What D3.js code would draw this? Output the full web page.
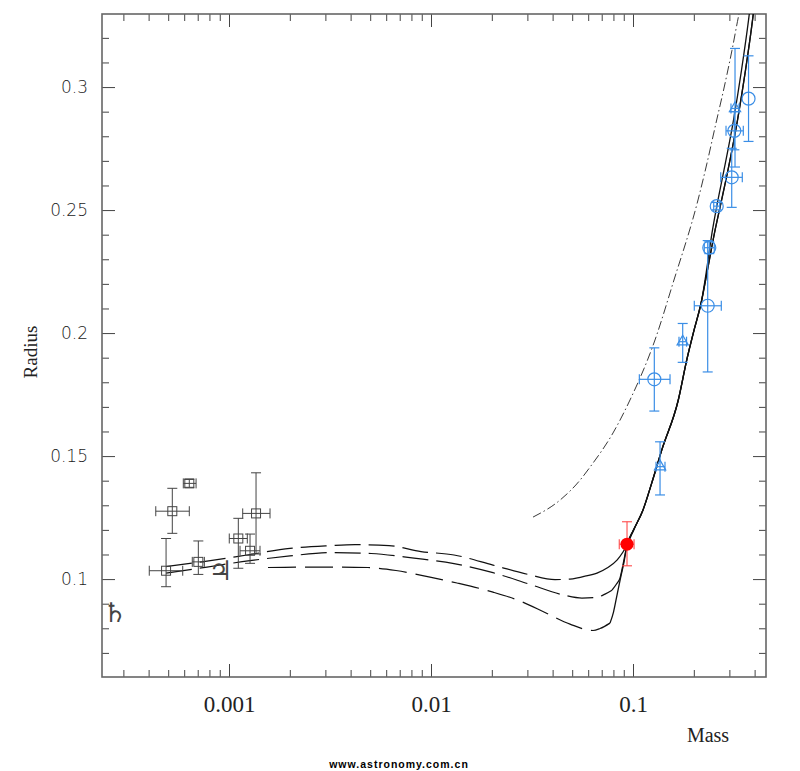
<!DOCTYPE html>
<html>
<head>
<meta charset="utf-8">
<script src="https://cdn.jsdelivr.net/npm/d3@7"></script>
<style>
  html, body { margin: 0; padding: 0; background: #ffffff; }
  svg { display: block; }
</style>
</head>
<body>
<svg id="chart" width="800" height="771"></svg>
<script>
// ---------------- tick labels ----------------
const xTickValues = [0.001, 0.01, 0.1];
const xTickLabels = ["0.001", "0.01", "0.1"];
const yTickValues = [0.1, 0.15, 0.2, 0.25, 0.3];
const yTickLabels = ["0.1", "0.15", "0.2", "0.25", "0.3"];
const xAxisTitle = "Mass";
const yAxisTitle = "Radius";
const watermark = "www.astronomy.com.cn";

// ---------------- model curves: [mass, radius] ----------------
const modelUpperLow = [
  [0.000488, 0.1051], [0.000778, 0.1073], [0.001271, 0.1100], [0.002004, 0.1125],
  [0.003162, 0.1136], [0.004205, 0.1140], [0.006197, 0.1136], [0.008923, 0.1112],
  [0.01300, 0.1098], [0.02027, 0.1057], [0.03056, 0.1018], [0.04111, 0.0998],
  [0.04877, 0.1000], [0.05786, 0.1012], [0.06635, 0.1024], [0.07435, 0.1045],
  [0.08333, 0.1077], [0.08923, 0.1110], [0.09339, 0.1138]
];
const modelMiddleLow = [
  [0.000488, 0.1024], [0.000778, 0.1049], [0.001271, 0.1075], [0.002004, 0.1094],
  [0.003162, 0.1108], [0.005047, 0.1104], [0.008238, 0.1085], [0.01300, 0.1063],
  [0.02027, 0.1026], [0.03056, 0.0980], [0.04554, 0.0935], [0.05591, 0.0923],
  [0.06559, 0.0925], [0.07268, 0.0939], [0.0787, 0.0955], [0.08285, 0.0980],
  [0.08623, 0.1004], [0.08975, 0.1069], [0.09339, 0.1138]
];
const modelLowerLow = [
  [0.001560, 0.1047], [0.002247, 0.1049], [0.003543, 0.1049], [0.004877, 0.1047],
  [0.006709, 0.1035], [0.009886, 0.1008], [0.01345, 0.0984], [0.02027, 0.0947],
  [0.02758, 0.0911], [0.03710, 0.0862], [0.04877, 0.0817], [0.06339, 0.0791],
  [0.06865, 0.0799], [0.07693, 0.0821], [0.08007, 0.0866], [0.08333, 0.0935],
  [0.08673, 0.1004], [0.09025, 0.1069], [0.09339, 0.1138]
];
// shared stellar branch
const mainSequence = [
  [0.09339, 0.1138], [0.10058, 0.1199], [0.11207, 0.1281], [0.12377, 0.1390],
  [0.13874, 0.1524], [0.16758, 0.1728], [0.18446, 0.1890], [0.19884, 0.2000],
  [0.21885, 0.2134]
];
const mainSequenceTopA = [
  [0.21885, 0.2134], [0.23245, 0.2268], [0.24611, 0.2407], [0.2605, 0.2520],
  [0.28219, 0.2663], [0.31444, 0.2866], [0.3445, 0.3069], [0.37316, 0.3272],
  [0.37958, 0.3321]
];
const mainSequenceTopB = [
  [0.21885, 0.2134], [0.23514, 0.2268], [0.25322, 0.2407], [0.27114, 0.2520],
  [0.29534, 0.2663], [0.32911, 0.2866], [0.36059, 0.3069], [0.39056, 0.3272],
  [0.3972, 0.3321]
];
const dashDotModel = [
  [0.03199, 0.1252], [0.04351, 0.1321], [0.05465, 0.1402], [0.06125, 0.1455],
  [0.07962, 0.1594], [0.09663, 0.1728], [0.1285, 0.1972], [0.15776, 0.2203],
  [0.20979, 0.2541], [0.23245, 0.2691], [0.25758, 0.2854], [0.28219, 0.2996],
  [0.30912, 0.3150], [0.33483, 0.3297], [0.34255, 0.3333]
];
// mass where each model turns from dashed to solid
const solidFromUpper = 0.05786;
const solidFromMiddle = 0.0787;
const solidFromLower = 0.07693;

// ---------------- observations: [mass, massLo, massHi, radius, radiusLo, radiusHi] ----------------
const planetPoints = [
  [0.000524, 0.000434, 0.000636, 0.1276, 0.1186, 0.1369],
  [0.000636, 0.000594, 0.000687, 0.1389, 0.1373, 0.1405],
  [0.000488, 0.000403, 0.000590, 0.1034, 0.0969, 0.1165],
  [0.000705, 0.000658, 0.000755, 0.1070, 0.1019, 0.1155],
  [0.001112, 0.001003, 0.001232, 0.1165, 0.1044, 0.1247],
  [0.001361, 0.001169, 0.001596, 0.1267, 0.1102, 0.1432],
  [0.001271, 0.001134, 0.001424, 0.1115, 0.1064, 0.1183]
];
const starCircles = [
  [0.1275, 0.1075, 0.1525, 0.1812, 0.1683, 0.1940],
  [0.2343, 0.2011, 0.2736, 0.2111, 0.1842, 0.2376],
  [0.2386, 0.2254, 0.2526, 0.2347, 0.2323, 0.2371],
  [0.2597, 0.2509, 0.2687, 0.2516, 0.2501, 0.2531],
  [0.3081, 0.2718, 0.3476, 0.2633, 0.2511, 0.2751],
  [0.3174, 0.2887, 0.3516, 0.2822, 0.2745, 0.2900],
  [0.3732, null, null, 0.2953, 0.2779, 0.3127]
];
const starTriangles = [
  [0.1361, 0.1300, 0.1440, 0.1457, 0.1342, 0.1558],
  [0.1762, 0.1689, 0.1841, 0.1965, 0.1881, 0.2039],
  [0.3199, 0.3055, 0.3348, 0.2913, 0.2675, 0.3157]
];
const targetPoint = [
  [0.0934, 0.0855, 0.1012, 0.1142, 0.1054, 0.1233]
];
// solar system planets
const solarNames = ["Jupiter", "Saturn"];
const solarSymbols = ["\u2643", "\u2644"];
const solarMass = [0.000955, 0.000286];
const solarRadius = [0.1005, 0.0837];

// ---------------- layout ----------------
const L = 102, R = 766, T = 14, B = 677;
const svg = d3.select("#chart");
svg.append("rect").attr("width", 800).attr("height", 771).attr("fill", "#fff");

const x = d3.scaleLog().domain([2.351e-4, 0.4554]).range([L, R]);
const y = d3.scaleLinear().domain([0.0602, 0.3297]).range([B, T]);

svg.append("defs").append("clipPath").attr("id", "plotclip")
  .append("rect").attr("x", L).attr("y", T).attr("width", R - L).attr("height", B - T);

// minor ticks
const xMinor = [];
for (let e = -4; e <= -1; e++) {
  for (let k = 2; k <= 9; k++) {
    const v = k * Math.pow(10, e);
    if (v > x.domain()[0] && v < x.domain()[1]) xMinor.push(v);
  }
}
const yMinor = d3.range(7, 33).map(d => d / 100)
  .filter(v => !yTickValues.some(t => Math.abs(t - v) < 1e-9));

const tickColor = "#444";
function styleAxis(g) {
  g.select(".domain").remove();
  g.selectAll(".tick line").attr("stroke", tickColor).attr("stroke-width", 1);
}
const MINOR = 7, MAJOR = 13;

// bottom
svg.append("g").attr("transform", `translate(0,${B})`)
  .call(d3.axisBottom(x).tickValues(xMinor).tickSize(-MINOR).tickFormat(""))
  .call(styleAxis);
const xb = svg.append("g").attr("transform", `translate(0,${B})`)
  .call(d3.axisBottom(x).tickValues(xTickValues).tickSize(-MAJOR).tickPadding(19)
    .tickFormat((d, i) => xTickLabels[i]))
  .call(styleAxis);
xb.selectAll("text").attr("font-family", "'Liberation Serif', 'Times New Roman', serif")
  .attr("font-size", 23).attr("fill", "#222");
// top
svg.append("g").attr("transform", `translate(0,${T})`)
  .call(d3.axisTop(x).tickValues(xMinor).tickSize(-MINOR).tickFormat(""))
  .call(styleAxis);
svg.append("g").attr("transform", `translate(0,${T})`)
  .call(d3.axisTop(x).tickValues(xTickValues).tickSize(-MAJOR).tickFormat(""))
  .call(styleAxis);
// left
svg.append("g").attr("transform", `translate(${L},0)`)
  .call(d3.axisLeft(y).tickValues(yMinor).tickSize(-MINOR).tickFormat(""))
  .call(styleAxis);
const yl = svg.append("g").attr("transform", `translate(${L},0)`)
  .call(d3.axisLeft(y).tickValues(yTickValues).tickSize(-MAJOR).tickPadding(14)
    .tickFormat((d, i) => yTickLabels[i]))
  .call(styleAxis);
yl.selectAll("text").attr("font-family", "'DejaVu Sans', sans-serif")
  .attr("font-weight", 200).attr("font-size", 17).attr("fill", "#222");
// right
svg.append("g").attr("transform", `translate(${R},0)`)
  .call(d3.axisRight(y).tickValues(yMinor).tickSize(-MINOR).tickFormat(""))
  .call(styleAxis);
svg.append("g").attr("transform", `translate(${R},0)`)
  .call(d3.axisRight(y).tickValues(yTickValues).tickSize(-MAJOR).tickFormat(""))
  .call(styleAxis);

// frame
svg.append("rect").attr("x", L).attr("y", T).attr("width", R - L).attr("height", B - T)
  .attr("fill", "none").attr("stroke", "#666").attr("stroke-width", 1.6);

// titles
svg.append("text").attr("x", 708).attr("y", 742).attr("text-anchor", "middle")
  .attr("font-family", "'Liberation Serif', 'Times New Roman', serif").attr("font-size", 20)
  .attr("fill", "#222").text(xAxisTitle);
svg.append("text").attr("transform", "translate(37,352) rotate(-90)").attr("text-anchor", "middle")
  .attr("font-family", "'Liberation Serif', 'Times New Roman', serif").attr("font-size", 19)
  .attr("fill", "#222").text(yAxisTitle);
svg.append("text").attr("x", 399).attr("y", 768).attr("text-anchor", "middle")
  .attr("font-family", "'Liberation Sans Narrow', 'Liberation Sans', sans-serif")
  .attr("font-weight", "bold").attr("font-size", 10.5).attr("letter-spacing", 1)
  .attr("fill", "#000").text(watermark);

// ---------------- curves ----------------
const plot = svg.append("g").attr("clip-path", "url(#plotclip)");
const line = d3.line().x(d => x(d[0])).y(d => y(d[1])).curve(d3.curveMonotoneX);

function drawModel(low, top, solidFrom, dash) {
  const full = low.concat(mainSequence.slice(1), top.slice(1));
  const dashed = full.filter(d => d[0] <= solidFrom);
  const solid = full.filter(d => d[0] >= solidFrom);
  plot.append("path").datum(dashed).attr("d", line).attr("fill", "none")
    .attr("stroke", "#111").attr("stroke-width", 1.2).attr("stroke-dasharray", dash);
  plot.append("path").datum(solid).attr("d", line).attr("fill", "none")
    .attr("stroke", "#111").attr("stroke-width", 1.3);
}
drawModel(modelUpperLow, mainSequenceTopA, solidFromUpper, "26,8");
drawModel(modelMiddleLow, mainSequenceTopB, solidFromMiddle, "26,8");
drawModel(modelLowerLow, mainSequenceTopB, solidFromLower, "28,9");

plot.append("path").datum(dashDotModel).attr("d", line).attr("fill", "none")
  .attr("stroke", "#222").attr("stroke-width", 0.9).attr("stroke-dasharray", "9,3,1.5,3");

// ---------------- error bars & markers ----------------
function errSegments(data, cap) {
  const segs = [];
  data.forEach(d => {
    const [m, mLo, mHi, r, rLo, rHi] = d;
    const cx = x(m), cy = y(r);
    if (rLo != null) {
      segs.push([cx, y(rLo), cx, y(rHi)]);
      segs.push([cx - cap, y(rLo), cx + cap, y(rLo)]);
      segs.push([cx - cap, y(rHi), cx + cap, y(rHi)]);
    }
    if (mLo != null) {
      segs.push([x(mLo), cy, x(mHi), cy]);
      segs.push([x(mLo), cy - cap, x(mLo), cy + cap]);
      segs.push([x(mHi), cy - cap, x(mHi), cy + cap]);
    }
  });
  return segs;
}
function drawErr(data, color, cap, width) {
  plot.append("g").selectAll("line").data(errSegments(data, cap)).join("line")
    .attr("x1", d => d[0]).attr("y1", d => d[1]).attr("x2", d => d[2]).attr("y2", d => d[3])
    .attr("stroke", color).attr("stroke-width", width);
}

const blue = "#3b8ee6";
const gray = "#444";

// planets (squares)
drawErr(planetPoints, gray, 5, 1);
plot.append("g").selectAll("rect").data(planetPoints).join("rect")
  .attr("x", d => x(d[0]) - 4.5).attr("y", d => y(d[3]) - 4.5)
  .attr("width", 9).attr("height", 9)
  .attr("fill", "none").attr("stroke", gray).attr("stroke-width", 1);

// stars (blue)
drawErr(starCircles, blue, 5, 1.2);
plot.append("g").selectAll("circle").data(starCircles).join("circle")
  .attr("cx", d => x(d[0])).attr("cy", d => y(d[3])).attr("r", 6.5)
  .attr("fill", "none").attr("stroke", blue).attr("stroke-width", 1.2);
drawErr(starTriangles, blue, 5, 1.2);
plot.append("g").selectAll("path").data(starTriangles).join("path")
  .attr("transform", d => `translate(${x(d[0])},${y(d[3])})`)
  .attr("d", d3.symbol(d3.symbolTriangle, 55))
  .attr("fill", "none").attr("stroke", blue).attr("stroke-width", 1.2);

// target (red)
drawErr(targetPoint, "#ff4a4a", 5, 1.1);
plot.append("g").selectAll("circle").data(targetPoint).join("circle")
  .attr("cx", d => x(d[0])).attr("cy", d => y(d[3])).attr("r", 6.5)
  .attr("fill", "#ff0000");

// solar planets symbols
plot.append("g").selectAll("text").data(solarNames).join("text")
  .attr("x", (d, i) => x(solarMass[i]) - 4).attr("y", (d, i) => y(solarRadius[i]) - 7)
  .attr("text-anchor", "middle").attr("dominant-baseline", "central")
  .attr("font-family", "'DejaVu Sans', sans-serif")
  .attr("font-size", 27).attr("fill", "#444")
  .text((d, i) => solarSymbols[i]);
</script>
</body>
</html>
